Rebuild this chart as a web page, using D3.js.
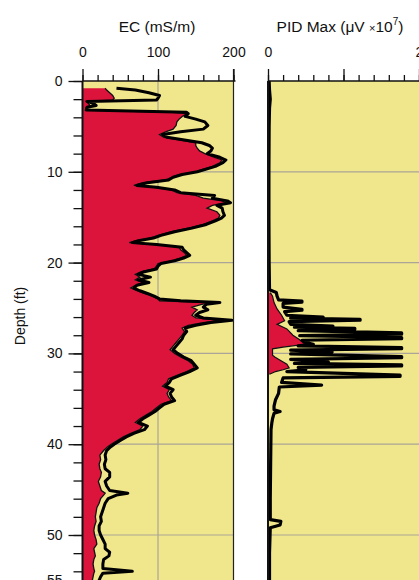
<!DOCTYPE html>
<html>
<head>
<meta charset="utf-8">
<script src="https://cdn.jsdelivr.net/npm/d3@7"></script>
<style>
  body { margin: 0; background: #fff; }
  svg { display: block; font-family: "Liberation Sans", Arial, sans-serif; }
</style>
</head>
<body>
<div id="chart"></div>
<script>
// EC log: depth (ft), red fill series, black line series (mS/m)
const ecDepth = [0.8, 1.0, 1.3, 1.6, 1.9, 2.1, 2.25, 2.5, 2.7, 2.9, 3.2, 3.45, 3.6, 3.9, 4.2, 4.5, 4.9, 5.3, 5.6, 5.9,
  6.2, 6.5, 6.8, 7.1, 7.4, 7.7, 8.0, 8.4, 8.7, 9.0, 9.4, 9.7, 10.0, 10.3, 10.6, 10.9, 11.2, 11.5, 11.7, 12.0,
  12.3, 12.6, 12.9, 13.2, 13.4, 13.7, 14.0, 14.4, 14.8, 15.1, 15.4, 15.8, 16.2, 16.6, 17.0, 17.3, 17.6, 17.8, 18.0, 18.3,
  18.6, 18.9, 19.2, 19.5, 19.8, 20.1, 20.4, 20.7, 21.0, 21.3, 21.6, 21.9, 22.2, 22.5, 22.8, 23.1, 23.4, 23.7, 24.0, 24.2,
  24.4, 24.6, 24.9, 25.2, 25.5, 25.8, 26.1, 26.35, 26.6, 26.9, 27.2, 27.6, 28.0, 28.4, 28.8, 29.2, 29.6, 30.0, 30.4, 30.8,
  31.2, 31.6, 32.0, 32.4, 32.8, 33.2, 33.6, 34.0, 34.4, 34.8, 35.2, 35.6, 36.0, 36.4, 36.8, 37.2, 37.6, 38.0, 38.4, 38.8,
  39.2, 39.6, 40.0, 40.3, 40.7, 41.2, 41.7, 42.2, 42.7, 43.1, 43.6, 44.1, 44.6, 45.1, 45.4, 45.6, 46.0, 46.5, 47.0, 47.5,
  48.0, 48.5, 49.0, 49.5, 50.0, 50.5, 51.0, 51.5, 51.9, 52.3, 52.7, 53.2, 53.7, 54.0, 54.2, 54.6, 55.0, 55.5];
const ecRed = [30, 32, 36, 40, 42, 40, 5, 8, 10, 5, 4, 120, 138, 132, 128, 125, 124, 120, 110, 102,
  108, 130, 150, 150, 152, 155, 162, 175, 185, 182, 172, 160, 150, 128, 118, 110, 80, 68, 95, 118,
  125, 150, 160, 185, 190, 172, 165, 178, 182, 180, 172, 160, 140, 118, 100, 90, 70, 62, 95, 128,
  130, 135, 138, 130, 118, 100, 98, 95, 78, 70, 76, 70, 80, 70, 64, 72, 82, 92, 100, 102,
  170, 158, 145, 152, 148, 145, 150, 185, 160, 140, 132, 135, 132, 128, 124, 120, 116, 122, 130, 140,
  146, 148, 138, 126, 114, 112, 106, 115, 112, 114, 118, 104, 98, 92, 84, 76, 70, 80, 76, 64,
  54, 46, 38, 33, 28, 23, 24, 22, 23, 25, 24, 21, 23, 25, 30, 28, 24, 22, 19, 18,
  17, 18, 16, 15, 16, 18, 19, 15, 16, 17, 15, 14, 15, 16, 15, 14, 13, 13];
const ecBlack = [45, 70, 88, 102, 100, 98, 6, 15, 18, 6, 5, 138, 140, 136, 150, 162, 166, 160, 130, 106,
  112, 135, 158, 168, 172, 170, 165, 182, 190, 186, 176, 164, 152, 132, 120, 114, 86, 72, 98, 122,
  130, 175, 172, 192, 196, 178, 185, 186, 188, 184, 176, 164, 145, 122, 104, 94, 74, 66, 98, 132,
  134, 138, 142, 134, 122, 104, 100, 98, 82, 74, 90, 74, 88, 72, 68, 76, 86, 95, 102, 130,
  182, 164, 160, 166, 155, 150, 160, 198, 170, 150, 136, 138, 134, 132, 128, 124, 120, 126, 134, 144,
  148, 152, 142, 130, 118, 115, 110, 120, 116, 118, 122, 108, 102, 96, 88, 80, 74, 86, 82, 68,
  58, 50, 42, 37, 32, 30, 31, 29, 30, 36, 36, 30, 32, 36, 60, 45, 34, 30, 28, 26,
  24, 25, 22, 22, 24, 27, 30, 30, 36, 35, 28, 27, 27, 66, 27, 24, 22, 22];

// PID log: depth (ft), value (uV x 10^7)
const pidDepth = [0, 1.0, 2.0, 3.0, 5, 10, 15, 20, 23.0, 23.3, 23.7, 24.1, 24.25, 24.35, 24.5, 24.9, 25.15, 25.25, 25.4, 25.8,
  26.0, 26.12, 26.25, 26.35, 26.5, 26.8, 27.0, 27.12, 27.25, 27.35, 27.5, 27.75, 27.88, 28.05, 28.25, 28.38, 28.55, 28.8, 29.0, 29.18,
  29.35, 29.48, 29.65, 29.85, 30.05, 30.35, 30.48, 30.65, 30.95, 31.1, 31.25, 31.38, 31.55, 31.8, 32.0, 32.4, 32.52, 32.7, 33.2, 33.5,
  33.7, 34.4, 35.1, 35.8, 36.2, 36.4, 36.6, 37.2, 37.7, 38.4, 42, 46, 48.3, 48.5, 48.9, 49.2, 52, 55.5];
const pidBlack = [0.015, 0.02, 0.03, 0.02, 0.015, 0.012, 0.012, 0.015, 0.02, 0.11, 0.12, 0.14, 0.45, 0.45, 0.2, 0.2, 0.45, 0.45, 0.22, 0.25,
  0.73, 0.3, 1.22, 1.22, 0.28, 0.3, 0.86, 0.35, 1.15, 1.15, 0.4, 1.77, 1.77, 0.42, 1.77, 1.77, 0.45, 0.5, 0.6, 0.4,
  1.77, 1.77, 0.3, 0.85, 0.3, 1.77, 1.77, 0.3, 0.8, 0.35, 1.77, 1.77, 0.4, 0.5, 0.25, 1.75, 1.75, 0.2, 0.18, 0.71,
  0.15, 0.14, 0.1, 0.08, 0.08, 0.16, 0.08, 0.06, 0.05, 0.04, 0.035, 0.03, 0.03, 0.17, 0.16, 0.03, 0.02, 0.02];
const pidRedDepth = [23.3, 23.7, 24.4, 25.1, 25.8, 26.4, 26.8, 27.3, 28.0, 28.5, 29.0, 29.3, 29.5, 30.2, 30.4, 30.7, 31.2, 31.6, 31.8, 32.0, 32.3];
const pidRed = [0.03, 0.06, 0.08, 0.12, 0.18, 0.22, 0.12, 0.25, 0.33, 0.42, 0.49, 0.2, 0.06, 0.06, 0.09, 0.15, 0.25, 0.28, 0.2, 0.1, 0.02];

const depthLabels = [0, 10, 20, 30, 40, 50, 55];
const depthGrid = [10, 20, 30, 40, 50];

const W = 419, H = 580;
const svg = d3.select("#chart").append("svg").attr("width", W).attr("height", H);

const y = d3.scaleLinear().domain([0, 55]).range([81, 580.4]);
const xEC = d3.scaleLinear().domain([0, 200]).range([82.5, 233.5]);
const xPID = d3.scaleLinear().domain([0, 2]).range([268, 419]);

const khaki = "#f0e68c", red = "#dc143c", grid = "#aaa596";

function panel(name, x0, x1) {
  svg.append("clipPath").attr("id", name).append("rect")
    .attr("x", x0).attr("y", y(0)).attr("width", x1 - x0).attr("height", H);
  svg.append("rect").attr("x", x0).attr("y", y(0)).attr("width", x1 - x0).attr("height", H)
    .attr("fill", khaki);
  const g = svg.append("g").attr("clip-path", `url(#${name})`);
  g.selectAll(".hg").data(depthGrid).join("line")
    .attr("x1", x0).attr("x2", x1).attr("y1", d => y(d)).attr("y2", d => y(d))
    .attr("stroke", grid).attr("stroke-width", 1.2);
  return g;
}

// EC panel
const gEC = panel("clipEC", xEC(0), xEC(200));
gEC.append("line").attr("x1", xEC(100)).attr("x2", xEC(100)).attr("y1", y(0)).attr("y2", H)
  .attr("stroke", grid).attr("stroke-width", 1.2);

const ecRows = ecDepth.map((d, i) => ({ d, r: ecRed[i], b: ecBlack[i] }));
gEC.append("path").datum(ecRows)
  .attr("fill", red)
  .attr("d", d3.area().y(p => y(p.d)).x0(xEC(0)).x1(p => xEC(p.r)));
gEC.append("path").datum(ecRows)
  .attr("fill", "none").attr("stroke", "#111").attr("stroke-width", 1.3)
  .attr("d", d3.line().y(p => y(p.d)).x(p => xEC(p.r)));
gEC.append("path").datum(ecRows)
  .attr("fill", "none").attr("stroke", "#000").attr("stroke-width", 3).attr("stroke-linejoin", "round")
  .attr("d", d3.line().y(p => y(p.d)).x(p => xEC(p.b)));

// PID panel
const gPID = panel("clipPID", xPID(0), W + 5);
const pidRedRows = pidRedDepth.map((d, i) => ({ d, v: pidRed[i] }));
gPID.append("path").datum(pidRedRows)
  .attr("fill", red)
  .attr("d", d3.area().y(p => y(p.d)).x0(xPID(0)).x1(p => xPID(p.v)));
gPID.append("path").datum(pidRedRows)
  .attr("fill", "none").attr("stroke", "#111").attr("stroke-width", 1.2)
  .attr("d", d3.line().y(p => y(p.d)).x(p => xPID(p.v)));
const pidRows = pidDepth.map((d, i) => ({ d, v: pidBlack[i] }));
gPID.append("path").datum(pidRows)
  .attr("fill", "none").attr("stroke", "#000").attr("stroke-width", 3.2).attr("stroke-linejoin", "round")
  .attr("d", d3.line().y(p => y(p.d)).x(p => xPID(p.v)));

// borders
svg.append("line").attr("x1", xEC(200)).attr("x2", xEC(200)).attr("y1", y(0) - 12).attr("y2", H)
  .attr("stroke", "#222").attr("stroke-width", 1.2);
svg.append("line").attr("x1", xEC(0)).attr("x2", xEC(0)).attr("y1", y(0)).attr("y2", H)
  .attr("stroke", "#111").attr("stroke-width", 2);
svg.append("line").attr("x1", xPID(0)).attr("x2", xPID(0)).attr("y1", y(0)).attr("y2", H)
  .attr("stroke", "#111").attr("stroke-width", 2);

// depth axis
function styleAxis(g) {
  g.select(".domain").remove();
  g.selectAll("line").attr("stroke", "#111").attr("stroke-width", 1.3);
  g.selectAll("text").attr("font-size", 14).attr("fill", "#111")
    .attr("font-family", "'Liberation Sans', Arial, sans-serif");
}
svg.append("g").attr("transform", `translate(${xEC(0)},0)`)
  .call(d3.axisLeft(y).tickValues(d3.range(0, 56, 2)).tickSize(9).tickFormat(""))
  .call(styleAxis);
svg.append("g").attr("transform", `translate(${xEC(0)},0)`)
  .call(d3.axisLeft(y).tickValues(depthLabels).tickSize(14).tickPadding(6).tickFormat(d3.format("d")))
  .call(styleAxis);

// top axes
function topAxis(x, minor, major, labels) {
  svg.append("line").attr("x1", x.range()[0]).attr("x2", x.range()[1] + 2)
    .attr("y1", y(0)).attr("y2", y(0)).attr("stroke", "#111").attr("stroke-width", 1.5);
  svg.append("g").attr("transform", `translate(0,${y(0)})`)
    .call(d3.axisTop(x).tickValues(minor).tickSize(6).tickFormat(""))
    .call(styleAxis);
  svg.append("g").attr("transform", `translate(0,${y(0)})`)
    .call(d3.axisTop(x).tickValues(major).tickSize(12).tickFormat(""))
    .call(styleAxis);
  svg.append("g").attr("transform", `translate(0,${y(0)})`)
    .call(d3.axisTop(x).tickValues(labels).tickSize(0).tickPadding(24).tickFormat(d3.format("d")))
    .call(styleAxis);
}
topAxis(xEC, d3.range(0, 201, 20), [0, 100, 200], [0, 100, 200]);
topAxis(xPID, d3.range(0, 2.01, 0.2), [0, 1, 2], [0, 2]);

// titles
svg.append("text").attr("x", 157).attr("y", 32).attr("text-anchor", "middle")
  .attr("font-size", 15.5).attr("fill", "#111").text("EC (mS/m)");
const pt = svg.append("text").attr("x", 340).attr("y", 32).attr("text-anchor", "middle")
  .attr("font-size", 15.5).attr("fill", "#111");
pt.append("tspan").text("PID Max (μV ");
pt.append("tspan").attr("font-size", 11).text("×");
pt.append("tspan").text("10");
pt.append("tspan").attr("font-size", 10).attr("dy", -7).text("7");
pt.append("tspan").attr("dy", 7).text(")");

svg.append("text").attr("transform", "translate(25,316) rotate(-90)").attr("text-anchor", "middle")
  .attr("font-size", 14).attr("fill", "#111").text("Depth (ft)");
</script>
</body>
</html>
